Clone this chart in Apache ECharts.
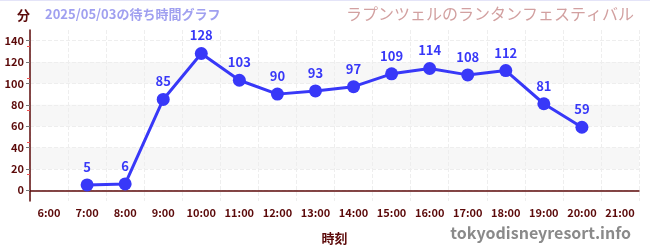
<!DOCTYPE html>
<html>
<head>
    <meta charset="utf-8">
    <title></title>
    <style type="text/css">
        html,
        body {
            height: 100%;
        }

        body {
            margin: 0;
            padding: 0;
            border-top: 1px solid #e4e4f8;
            box-sizing: border-box;
        }

        #main {
            width: 650px;
            height: 249px;
        }
    </style>
</head>

<body>
<div id="main"></div>
<script type="text/javascript" src="https://cdn.jsdelivr.net/npm/echarts@6/dist/echarts.min.js"></script>
<script type="text/javascript">
    // 時刻
    var hours = ['6:00', '7:00', '8:00', '9:00', '10:00', '11:00', '12:00', '13:00',
        '14:00', '15:00', '16:00', '17:00', '18:00', '19:00', '20:00', '21:00'];
    // 待ち時間（分）
    var waits = [null, 5, 6, 85, 128, 103, 90, 93, 97, 109, 114, 108, 112, 81, 59, null];
    var yTicks = [0, 20, 40, 60, 80, 100, 120, 140];

    var font = '"Noto Sans CJK JP", "Noto Sans", sans-serif';
    var dark = '#5c0a0a';

    var myChart = echarts.init(document.getElementById('main'));

    var option = {
        backgroundColor: '#fff',
        textStyle: {fontFamily: font},
        title: [
            {
                text: '2025/05/03の待ち時間グラフ',
                left: 40,
                top: 2,
                textStyle: {color: '#a0a0f0', fontSize: 13, fontWeight: 'bold', fontFamily: font}
            },
            {
                text: 'ラプンツェルのランタンフェスティバル',
                right: 11,
                top: 0,
                textStyle: {color: '#d2a0a0', fontSize: 16, fontWeight: 'normal', fontFamily: font}
            },
            {
                text: 'tokyodisneyresort.info',
                right: 14,
                top: 219,
                textStyle: {color: '#8a8a8a', fontSize: 16, fontWeight: 'bold', fontFamily: font}
            }
        ],
        grid: {
            left: 30,
            right: 11,
            top: 29,
            bottom: 49
        },
        xAxis: {
            type: 'category',
            data: hours,
            boundaryGap: true,
            name: '時刻',
            nameLocation: 'middle',
            nameGap: 31,
            nameTextStyle: {color: dark, fontSize: 13, fontWeight: 'bold'},
            axisLine: {lineStyle: {color: dark, width: 1.5}},
            axisTick: {alignWithLabel: true, interval: 0, length: 4, lineStyle: {color: '#333'}},
            axisLabel: {color: dark, fontSize: 11, fontWeight: 'bold', margin: 6, interval: 0},
            splitLine: {show: true, interval: 0, lineStyle: {color: '#eeeeee', type: 'dashed'}}
        },
        yAxis: {
            type: 'value',
            min: -10,
            max: 150,
            name: '分',
            nameLocation: 'end',
            nameGap: 8,
            nameTextStyle: {color: dark, fontSize: 13, fontWeight: 'bold', align: 'right'},
            axisLine: {show: true, lineStyle: {color: dark, width: 1.5}},
            axisTick: {show: true, length: 4, customValues: yTicks, lineStyle: {color: '#777'}},
            axisLabel: {color: dark, fontSize: 11, fontWeight: 'bold', margin: 6, customValues: yTicks},
            minorTick: {show: true, splitNumber: 2, length: 3, lineStyle: {color: '#f05050'}},
            splitLine: {show: true, lineStyle: {color: '#eeeeee', type: 'dashed'}},
            splitArea: {show: true, areaStyle: {color: ['rgba(255,255,255,0)', '#f7f7f7']}}
        },
        series: [
            {
                type: 'line',
                data: waits,
                symbol: 'circle',
                symbolSize: 13,
                connectNulls: false,
                lineStyle: {color: '#3838f8', width: 3},
                itemStyle: {color: '#3838f8'},
                label: {
                    show: true,
                    position: 'top',
                    distance: 5,
                    color: '#3838f8',
                    fontSize: 13,
                    fontWeight: 'bold'
                },
                animation: false
            }
        ]
    };

    myChart.setOption(option);
</script>
</body>
</html>
